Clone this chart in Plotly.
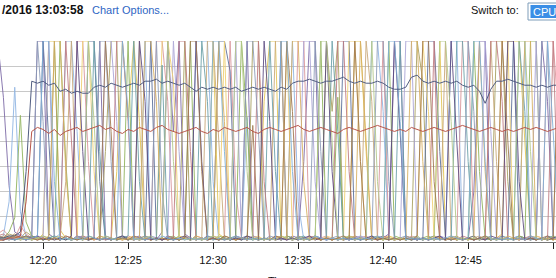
import pandas as pd
import plotly.graph_objects as go

# sample times: 20-second real-time samples
start_time = "2016-01-01 12:17:20"
n_points = 100

host_high = [2,2,3,3,5,35,80,79,80,78,
             79,75,76,74,75,74,74,77,78,77,
             79,78,77,78,79,78,80,80,81,79,
             80,79,78,79,77,75,77,76,77,76,
             77,76,77,75,76,77,76,77,76,75,
             77,76,79,80,80,81,80,79,80,80,
             81,82,80,79,80,79,79,80,79,77,
             76,76,77,82,83,80,79,80,79,80,
             79,80,78,77,78,75,69,76,80,80,
             81,80,79,78,78,77,78,77,78,78]
host_mid = [1,1,2,2,3,20,55,57,56,54,
            56,53,55,56,57,55,56,57,58,56,
            57,55,54,56,55,57,56,55,57,58,
            56,55,54,55,56,57,55,54,56,55,
            57,56,55,56,57,55,54,56,57,56,
            55,56,57,58,56,55,56,57,56,55,
            54,56,57,56,55,56,57,58,57,56,
            55,56,55,57,56,55,56,57,56,55,
            56,57,58,57,56,55,56,57,56,55,
            56,55,56,57,56,57,56,55,56,57]

vm_a = [1,1,2,1,2,3,2,1,4,100, 100,6,2,1,2,1,3,2,1,2, 1,35,100,62,100,60,2,1,2,1, 2,1,3,2,1,2,1,2,100,4,
        2,1,2,1,3,2,1,70,100,100, 3,2,1,2,1,2,3,1,2,1, 2,1,3,100,100,45,1,2,1,3, 2,1,2,1,2,1,2,3,100,2,
        1,2,1,2,3,1,2,1,2,4, 100,100,100,50,2,1,2,1,2,1]
vm_b = [100,72,28,5,3,2,3,100,100,4, 2,1,2,1,3,2,1,2,100,3, 2,1,2,1,2,3,1,2,1,5, 100,55,100,4,2,1,2,1,3,2,
        1,2,1,2,100,3,2,1,2,1, 2,1,3,2,40,100,100,2,1,2, 1,2,1,3,2,1,2,1,2,4, 100,100,3,2,1,2,1,2,3,1,
        2,1,2,1,25,100,100,2,1,2, 1,2,3,1,2,1,100,70,2,1]
vm_c = [2,3,20,77,15,3,2,1,2,1, 2,4,100,100,55,2,1,2,1,2, 1,2,3,1,2,1,100,3,2,1, 2,1,2,1,3,100,100,100,30,1,
        2,1,3,2,62,2,1,2,1,3, 2,1,100,20,1,2,3,1,2,1, 2,1,2,1,3,2,100,100,65,2, 1,2,1,2,3,1,2,1,2,1,
        100,100,2,1,2,1,3,2,1,2, 1,2,3,100,2,1,2,1,3,2]
vm_d = [3,2,4,3,2,5,3,2,3,2, 100,3,2,1,2,3,1,2,1,45, 100,100,3,2,1,2,3,1,2,1, 2,1,3,100,2,1,2,1,2,1,
        3,2,1,2,1,100,100,2,1,2, 1,2,1,3,2,1,2,1,100,65, 100,3,2,1,2,1,2,3,1,2, 1,2,1,2,100,80,2,1,2,1,
        2,3,1,2,1,2,1,2,100,100, 30,1,2,1,3,2,1,2,1,2]
vm_e = [4,6,3,2,8,4,2,3,2,1, 2,1,3,2,100,100,40,2,1,2, 1,2,1,3,2,1,2,1,100,100, 70,2,1,2,1,3,2,1,2,1,
        2,100,25,2,1,2,1,2,1,3, 2,1,2,100,100,2,1,2,3,1, 2,1,2,1,2,3,1,2,100,2, 1,2,1,3,2,1,2,1,2,1,
        3,2,100,100,2,1,2,1,2,3, 1,2,1,2,1,3,2,100,100,60]
vm_f = [2,1,2,3,2,1,3,2,100,50, 2,1,2,1,2,3,100,100,30,1, 2,1,3,2,1,2,1,100,2,1, 3,2,1,2,1,2,1,3,2,100,
        100,85,1,2,3,1,2,1,2,1, 100,3,2,1,2,1,3,2,1,2, 1,100,100,2,1,2,1,2,3,1, 2,1,2,1,2,1,100,100,45,2,
        1,2,1,2,3,1,2,1,2,1, 2,100,3,2,1,2,1,3,2,1]
vm_g = [1,2,5,12,63,10,3,2,1,2, 3,100,40,1,2,1,3,2,1,2, 1,2,3,100,2,1,2,1,2,1, 2,3,1,2,100,2,1,2,1,3,
        2,1,2,100,60,2,1,2,1,2, 1,3,2,1,2,1,2,100,2,1, 72,1,3,2,1,2,1,2,1,100, 3,2,1,2,1,2,3,1,2,1,
        2,1,2,1,100,35,2,1,2,1, 2,1,3,2,100,100,2,1,2,1]
vm_h = [2,3,2,1,3,2,1,2,1,2, 1,2,30,100,2,1,2,1,3,2, 1,2,1,2,1,100,3,2,1,2, 1,2,1,3,2,1,2,100,100,50,
        1,2,1,2,1,3,2,1,2,100, 100,2,1,2,1,2,3,1,2,1, 2,1,2,3,1,100,70,1,2,1, 2,1,3,2,1,2,1,2,1,100,
        2,1,2,1,2,3,1,100,40,1, 2,1,2,1,3,2,1,2,1,100]
vm_i = [3,2,1,2,4,2,1,3,2,100, 2,1,2,1,2,3,1,2,1,100, 100,60,1,2,1,2,1,3,2,1, 2,100,45,2,1,2,1,2,1,2,
        1,2,100,2,1,3,2,1,2,1, 2,1,2,1,100,100,30,2,1,2, 1,2,1,2,3,1,2,1,2,1, 2,1,100,100,2,1,2,1,3,2,
        1,2,1,2,1,2,100,55,2,1, 2,1,2,1,2,100,2,1,2,1]
vm_j = [1,2,1,3,2,1,2,1,2,1, 2,3,1,2,1,100,100,35,1,2, 1,2,1,2,3,1,2,1,2,100, 100,80,2,1,2,1,2,1,3,2,
        100,2,1,2,1,2,3,1,2,1, 2,100,2,1,2,1,2,1,3,2, 1,2,100,100,40,1,2,1,2,3, 1,2,1,2,1,100,65,1,2,1,
        3,2,1,2,1,2,1,2,1,100, 100,2,1,2,1,3,2,1,2,1]
vm_k = [2,1,2,1,2,3,1,2,1,2, 3,2,1,2,1,2,1,100,45,1, 2,1,2,3,100,30,1,2,1,88, 1,2,1,2,1,3,100,70,1,2,
        1,2,3,1,2,1,2,1,100,35, 1,2,1,2,3,1,2,1,2,100, 55,1,2,1,2,1,3,2,1,2, 1,100,2,1,2,1,2,3,1,2,
        1,100,100,40,1,2,1,2,1,3, 2,1,100,65,1,2,1,2,3,1]
vm_l = [3,4,2,3,2,1,2,1,2,1, 2,1,100,50,1,3,2,1,2,1, 2,100,100,60,2,1,2,1,2,1, 3,2,100,100,45,1,2,1,2,1,
        2,1,3,2,1,2,100,30,1,2, 1,2,1,2,1,3,2,1,2,1, 100,100,35,1,2,1,2,1,3,2, 1,2,1,2,1,2,1,100,2,1,
        2,1,3,2,1,2,1,100,100,70, 1,2,1,2,3,1,2,1,100,2]
vm_m = [1,2,1,2,1,2,3,100,60,1, 2,1,2,1,3,2,1,2,100,100, 40,1,2,1,2,1,3,2,100,25, 1,2,1,2,1,2,1,3,2,1,
        2,1,2,1,100,100,55,1,3,2, 1,2,1,2,1,2,100,45,1,2, 3,1,2,1,2,1,2,100,100,30, 1,2,3,1,2,1,2,1,2,1,
        2,1,2,100,65,1,3,2,1,2, 1,2,1,2,1,2,100,100,2,1]
vm_n = [2,1,2,3,1,2,1,2,1,3, 100,100,35,1,2,1,2,1,3,2, 1,2,1,2,1,2,100,100,70,2, 1,2,1,2,1,3,2,1,2,100,
        60,2,1,2,1,2,1,2,1,2, 3,1,100,100,30,1,2,1,2,1, 2,1,3,2,100,50,1,2,1,2, 1,2,1,100,100,40,1,3,2,1,
        2,1,2,1,2,100,35,1,2,1, 3,2,1,100,100,2,1,2,1,2]
vm_o = [2,1,2,1,2,1,2,3,1,2, 1,2,1,3,100,45,1,2,1,2, 1,2,3,1,2,100,70,1,2,1, 2,1,2,3,1,100,40,1,2,1,
        2,1,2,1,3,2,1,100,60,1, 2,1,2,1,2,3,1,2,100,35, 1,2,1,2,1,2,3,1,2,1, 100,55,1,2,1,2,1,2,3,1,
        100,50,1,2,1,2,1,3,2,1, 100,100,30,1,2,1,2,1,2,3]
vm_p = [1,2,3,2,1,2,1,2,3,1, 2,1,2,1,2,1,100,60,1,3, 2,1,2,1,2,1,2,3,1,2, 100,40,1,2,1,2,1,2,3,1,
        2,1,100,100,35,1,2,1,2,1, 3,2,1,2,1,2,1,100,100,50, 1,2,3,1,2,1,100,30,1,2, 1,2,1,2,3,1,2,1,100,100,
        60,1,2,1,2,1,3,2,1,2, 1,2,100,100,45,1,2,1,3,2]
vm_q = [3,2,2,4,2,3,2,1,2,1, 2,1,3,2,1,2,1,2,1,100, 55,1,2,1,3,2,1,2,1,2, 1,2,1,2,100,100,35,1,2,1,
        3,2,1,2,1,58,1,2,1,3, 2,100,65,1,2,1,2,1,2,1, 2,3,1,100,40,1,2,1,2,1, 2,1,2,1,3,100,100,30,1,2,
        1,2,1,2,1,2,3,1,2,100, 50,1,2,1,2,1,2,3,1,100]
vm_r = [2,1,2,1,2,1,2,3,100,100, 30,1,2,1,2,1,3,2,1,2, 1,2,100,65,1,2,1,2,1,3, 2,1,2,1,2,1,2,1,100,100,
        45,1,3,2,1,2,1,2,1,2, 100,100,35,1,2,1,3,2,1,2, 1,2,1,2,1,2,1,3,2,100, 100,60,1,2,1,2,1,2,1,2,
        3,2,1,2,100,100,40,1,2,1, 2,1,2,1,3,2,1,100,55,1]

vm_series = [vm_a, vm_b, vm_c, vm_d, vm_e, vm_f, vm_g, vm_h, vm_i,
             vm_j, vm_k, vm_l, vm_m, vm_n, vm_o, vm_p, vm_q, vm_r]
vm_colors = ["#e3c552", "#7b68a6", "#8eb4e3", "#a8a060", "#d9959a", "#5a6e9a",
             "#8fb35a", "#c8a878", "#a9a3d6", "#f0d070", "#6aa0a8", "#c07a80",
             "#8c9cb8", "#d8b060", "#5b4a80", "#b4c98a", "#a07850", "#7fb0d8"]

times = pd.date_range(start_time, periods=n_points, freq="20s")

fig = go.Figure()
for vals, col in zip(vm_series, vm_colors):
    fig.add_trace(go.Scatter(x=times, y=vals, mode="lines",
                             line=dict(color=col, width=1), opacity=0.88,
                             hoverinfo="skip", showlegend=False))
fig.add_trace(go.Scatter(x=times, y=host_high, mode="lines",
                         line=dict(color="#525e82", width=1), showlegend=False))
fig.add_trace(go.Scatter(x=times, y=host_mid, mode="lines",
                         line=dict(color="#b8564a", width=1), showlegend=False))

W, H = 556, 278
T, B = 41, 36
ph = H - T - B


def py(ypix):
    return (H - B - ypix) / ph


fig.update_layout(
    width=W, height=H,
    margin=dict(l=0, r=0, t=T, b=B),
    paper_bgcolor="white", plot_bgcolor="white",
    showlegend=False,
    font=dict(family="Liberation Sans, Arial, sans-serif", size=11, color="#111"),
    xaxis=dict(type="date",
               range=["2016-01-01 12:17:28", "2016-01-01 12:50:10"],
               tick0="2016-01-01 12:20:00", dtick=300000, tickformat="%H:%M",
               ticks="outside", ticklen=6, tickcolor="#222", tickwidth=1,
               ticklabelstandoff=2,
               showline=True, linecolor="#777", linewidth=1,
               showgrid=False, zeroline=False,
               tickfont=dict(size=11, color="#111")),
    yaxis=dict(range=[0, 100], dtick=12.5, showticklabels=False,
               showgrid=True, gridcolor="#c8c8c8", gridwidth=1,
               zeroline=False, showline=False, ticks=""),
)

fig.add_annotation(text="<b>/2016 13:03:58</b>", xref="paper", yref="paper",
                   x=0, y=py(10), xanchor="left", yanchor="middle",
                   showarrow=False, font=dict(size=12, color="#111"))
fig.add_annotation(text="Chart Options...", xref="paper", yref="paper",
                   x=90 / W, y=py(10), xanchor="left", yanchor="middle",
                   showarrow=False, font=dict(size=11, color="#2f66c4"))
fig.add_annotation(text="Switch to:", xref="paper", yref="paper",
                   x=469 / W, y=py(10), xanchor="left", yanchor="middle",
                   showarrow=False, font=dict(size=11, color="#111"))
fig.add_shape(type="rect", xref="paper", yref="paper",
              x0=528 / W, x1=560 / W, y0=py(20), y1=py(3),
              fillcolor="white", line=dict(color="#7f9db9", width=1))
fig.add_shape(type="rect", xref="paper", yref="paper",
              x0=530.5 / W, x1=560 / W, y0=py(18), y1=py(5),
              fillcolor="#3a8ee6", line=dict(width=0))
fig.add_annotation(text="CPU", xref="paper", yref="paper",
                   x=531 / W, y=py(11.5), xanchor="left", yanchor="middle",
                   showarrow=False, font=dict(size=11, color="white"))
fig.add_annotation(text="Time", xref="paper", yref="paper",
                   x=266 / W, y=py(281), xanchor="left", yanchor="middle",
                   showarrow=False, font=dict(size=11, color="#111"))

fig.write_html("out.html")
